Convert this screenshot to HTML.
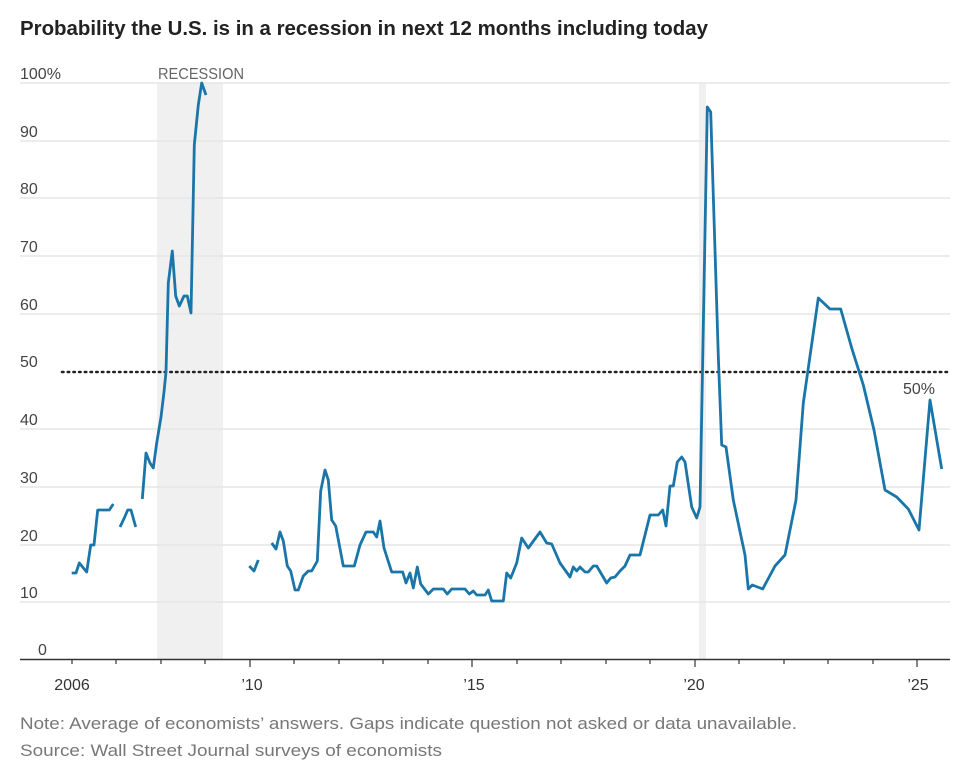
<!DOCTYPE html>
<html><head><meta charset="utf-8"><style>
body{margin:0;background:#fff;width:959px;height:767px;overflow:hidden;font-family:"Liberation Sans",sans-serif}
</style></head><body>
<svg width="959" height="767" xmlns="http://www.w3.org/2000/svg" font-family="Liberation Sans, sans-serif">
<text x="20" y="35" font-size="20" font-weight="bold" fill="#222" textLength="688" lengthAdjust="spacingAndGlyphs">Probability the U.S. is in a recession in next 12 months including today</text>
<rect x="157" y="83" width="66" height="577" fill="#f0f0f0"/>
<rect x="699" y="83" width="7" height="577" fill="#f0f0f0"/>
<g stroke="#e6e6e6" stroke-width="1.5">
<line x1="20" x2="950" y1="83" y2="83"/><line x1="20" x2="950" y1="141" y2="141"/><line x1="20" x2="950" y1="198" y2="198"/><line x1="20" x2="950" y1="256" y2="256"/><line x1="20" x2="950" y1="314" y2="314"/><line x1="20" x2="950" y1="429" y2="429"/><line x1="20" x2="950" y1="487" y2="487"/><line x1="20" x2="950" y1="545" y2="545"/><line x1="20" x2="950" y1="602" y2="602"/>
</g>
<line x1="62" x2="950" y1="372" y2="372" stroke="#222" stroke-width="2.5" stroke-dasharray="1.5 4.2" stroke-linecap="round"/>
<g font-size="16" fill="#444">
<text x="20" y="79">100%</text><text x="20" y="137">90</text><text x="20" y="194">80</text><text x="20" y="252">70</text><text x="20" y="310">60</text><text x="20" y="367">50</text><text x="20" y="425">40</text><text x="20" y="483">30</text><text x="20" y="541">20</text><text x="20" y="598">10</text><text x="38" y="655">0</text>
<text x="158" y="79" fill="#666" textLength="86" lengthAdjust="spacingAndGlyphs">RECESSION</text>
<text x="903" y="394">50%</text>
</g>
<line x1="20" x2="950" y1="659.5" y2="659.5" stroke="#333" stroke-width="1.5"/>
<g stroke="#333" stroke-width="1.2">
<line x1="72" x2="72" y1="660" y2="664"/><line x1="116" x2="116" y1="660" y2="664"/><line x1="161" x2="161" y1="660" y2="664"/><line x1="205" x2="205" y1="660" y2="664"/><line x1="250" x2="250" y1="660" y2="667"/><line x1="294" x2="294" y1="660" y2="664"/><line x1="339" x2="339" y1="660" y2="664"/><line x1="383" x2="383" y1="660" y2="664"/><line x1="428" x2="428" y1="660" y2="664"/><line x1="472" x2="472" y1="660" y2="667"/><line x1="517" x2="517" y1="660" y2="664"/><line x1="561" x2="561" y1="660" y2="664"/><line x1="606" x2="606" y1="660" y2="664"/><line x1="650" x2="650" y1="660" y2="664"/><line x1="695" x2="695" y1="660" y2="667"/><line x1="739" x2="739" y1="660" y2="664"/><line x1="784" x2="784" y1="660" y2="664"/><line x1="828" x2="828" y1="660" y2="664"/><line x1="873" x2="873" y1="660" y2="664"/><line x1="917" x2="917" y1="660" y2="667"/>
</g>
<g font-size="16" fill="#333" text-anchor="middle">
<text x="72" y="690">2006</text><text x="252" y="690">’10</text><text x="474" y="690">’15</text><text x="694" y="690">’20</text><text x="918" y="690">’25</text>
</g>
<g font-size="17" fill="#777">
<text x="20" y="729" textLength="777" lengthAdjust="spacingAndGlyphs">Note: Average of economists’ answers. Gaps indicate question not asked or data unavailable.</text>
<text x="20" y="756" textLength="422" lengthAdjust="spacingAndGlyphs">Source: Wall Street Journal surveys of economists</text>
</g>
<g fill="none" stroke="#1a75a8" stroke-width="2.8" stroke-linejoin="round">
<polyline points="71.7,573 76,573 79.3,563 86.7,572 90.7,545 94,545 97.7,510 109.3,510 113.3,504"/>
<polyline points="120,527 124.3,518 127.7,510 131,510 135.7,527"/>
<polyline points="142.3,499 146,453 150,463 153.3,468 156.7,443 161,417 164,392 166,372 168.3,283 172.3,251 175.7,296 179.3,306 184,296 187.3,296 191,313 194.3,145 198.3,105 201.7,83 206,95"/>
<polyline points="249.3,566 254,571 258.3,560"/>
<polyline points="271.7,543 276,549 280,532 283.3,541 287.3,566 290.7,571 295,590 298.3,590 303.3,576 308.3,571 311.7,571 317.3,561 320.7,491 325,470 328.3,480 331.7,520 335.7,526 343.3,566 354.3,566 360,545 366,532 373.3,532 376.7,537 380,521 384,548 391.7,572 402.7,572 406,583 410,573 413.3,588 417.3,567 420.7,584 428.3,594 433.3,589 443.3,589 447.3,594 451.7,589 465,589 469.3,594 473.3,591 476.7,595 485,595 488.3,590 491.7,601 503.3,601 506.7,573 510.7,578 516.7,563 521.7,538 528.3,548 540,532 546.7,543 551.7,544 560,563 570,577 573.3,567 576.7,571 580,567 585,572 588.3,572 593.3,566 596.7,566 606.7,583 610.7,578 615,577 620,571 625,566 630,555 640,555 650,515 658.3,515 662.7,510 666,526 670,486 673.3,486 677.3,462 681.7,457 685,462 691.7,507 696.7,518 700,507 707.3,107 710.7,112 718.3,356 721.7,445 726,447 733.3,500 745,555 748.3,589 752.3,585 762.7,589 775,566 785,555 796,500 803.3,403 818.3,298 830,309 840.7,309 851.7,348 863.3,385 874,430 885,490 896.7,497 908.3,509 919,530 930,400 941.7,469"/>
</g>
</svg>
</body></html>
